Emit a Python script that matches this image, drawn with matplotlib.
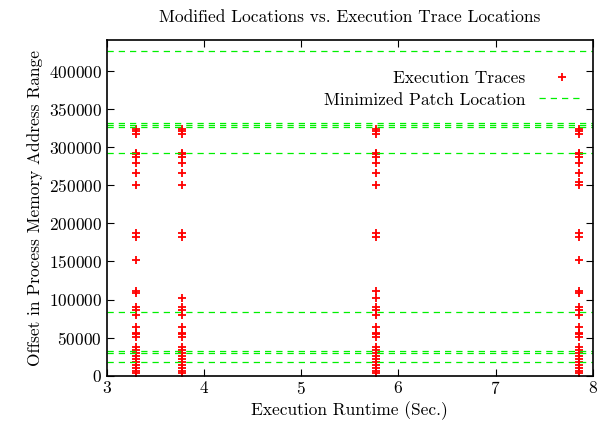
import matplotlib.pyplot as plt
import numpy as np

plt.rcParams['font.family'] = 'cmr10'
plt.rcParams['axes.formatter.use_mathtext'] = True

# runtime of each trace column (sec.)
runtimes = [3.30, 3.77, 5.77, 7.86]

common = [324000, 321000, 318000, 293000, 291000, 287000, 279000, 266000, 250000,
          188000, 182000, 90000, 86000, 80000, 64000, 56000, 54000, 51000,
          38000, 34000, 30000, 26000, 22000, 18000, 14000, 10000, 6000, 3000]
extra_1 = [152000, 111000, 108000]
extra_2 = [102000]
extra_3 = [111000, 102000]
extra_4 = [254000, 152000, 111000, 108000]
extras = [extra_1, extra_2, extra_3, extra_4]

patch_locations = [427000, 331500, 329300, 326300, 293000, 83000, 32200, 30200, 17400]

fs = 12.5

fig, ax = plt.subplots(figsize=(5.97, 4.22), dpi=100)
fig.subplots_adjust(left=0.179, right=0.993, top=0.905, bottom=0.11)

xs = []
ys = []
for rt, ex in zip(runtimes, extras):
    vals = common + ex
    xs += [rt] * len(vals)
    ys += vals
ax.plot(xs, ys, linestyle='none', marker='+', color='red', markersize=6,
        markeredgewidth=1.3, label='Execution Traces')

for i, loc in enumerate(patch_locations):
    ax.axhline(loc, color='#00f000', linestyle=(0, (5, 4)), linewidth=0.9,
               label='Minimized Patch Location' if i == 0 else None)

ax.set_xlim(3, 8)
ax.set_ylim(0, 441000)
ax.set_xticks(np.arange(3, 9, 1))
ax.set_yticks(np.arange(0, 400001, 50000))
ax.tick_params(direction='in', top=True, right=True, length=5, labelsize=fs)
for sp in ax.spines.values():
    sp.set_linewidth(1.2)
ax.ticklabel_format(style='plain', axis='y')
ax.set_title('Modified Locations vs. Execution Trace Locations', fontsize=fs, pad=13)
ax.set_xlabel('Execution Runtime (Sec.)', fontsize=fs, labelpad=3)
ax.set_ylabel('Offset in Process Memory Address Range', fontsize=fs)
ax.legend(loc='upper right', bbox_to_anchor=(1.015, 0.955), frameon=False,
          markerfirst=False, fontsize=fs, handlelength=2.6, labelspacing=0.35)

fig.savefig('out.png', dpi=100)
